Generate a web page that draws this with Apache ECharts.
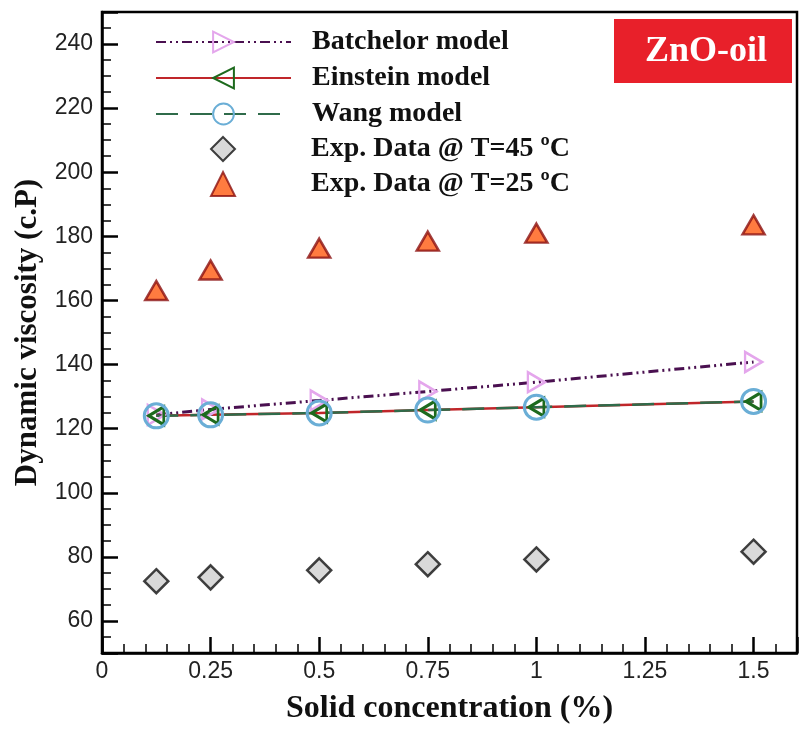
<!DOCTYPE html>
<html><head><meta charset="utf-8">
<script src="https://cdn.jsdelivr.net/npm/echarts@6/dist/echarts.min.js"></script>
<style>html,body{margin:0;padding:0;background:#fff}#c{width:801px;height:730px}</style>
</head><body><div id="c"></div>
<script>
const concentration = [0.125, 0.25, 0.5, 0.75, 1, 1.5];
const batchelor = [124.3, 126.0, 128.8, 131.6, 134.5, 140.8];
const einstein = [124.0, 124.3, 124.9, 125.8, 126.7, 128.5];
const wang = [124.0, 124.3, 124.9, 125.8, 126.7, 128.5];
const exp45 = [72.4, 73.6, 75.8, 77.7, 79.2, 81.6];
const exp25 = [163.1, 169.5, 176.3, 178.5, 181.0, 183.6];
const seriesNames = ['Batchelor model', 'Einstein model', 'Wang model', 'Exp. Data @ T=45 \u00baC', 'Exp. Data @ T=25 \u00baC'];

const pair = arr => concentration.map((x, i) => [x, arr[i]]);
const serif = '"Liberation Serif","Times New Roman",serif';
const sans = '"Liberation Sans",Arial,sans-serif';
const legendText = {fontFamily: serif, fontWeight: 'bold', fontSize: 28, color: '#111'};

const chart = echarts.init(document.getElementById('c'));
chart.setOption({
  animation: false,
  grid: {left: 102, right: 4, top: 12, bottom: 73, show: true, borderColor: '#000', borderWidth: 2.5, backgroundColor: 'transparent'},
  xAxis: {
    type: 'value', min: 0, max: 1.6, interval: 0.25,
    axisLine: {show: true, lineStyle: {color: '#000', width: 2.5}},
    axisTick: {show: true, inside: true, length: 16, lineStyle: {color: '#000', width: 2.5}},
    minorTick: {show: true, splitNumber: 5, length: 9, lineStyle: {color: '#000', width: 1.5}},
    splitLine: {show: false},
    axisLabel: {color: '#222', fontFamily: sans, fontSize: 23, margin: 7,
      formatter: v => (v > 1.55 ? '' : String(v))},
    name: 'Solid concentration (%)', nameLocation: 'middle', nameGap: 40,
    nameTextStyle: {fontFamily: serif, fontWeight: 'bold', fontSize: 32, color: '#111'}
  },
  yAxis: {
    type: 'value', min: 50, max: 250, splitNumber: 10,
    axisLine: {show: true, lineStyle: {color: '#000', width: 2.5}},
    axisTick: {show: true, inside: true, length: 16, lineStyle: {color: '#000', width: 2.5}},
    minorTick: {show: true, splitNumber: 4, length: 9, lineStyle: {color: '#000', width: 1.5}},
    splitLine: {show: false},
    axisLabel: {color: '#222', fontFamily: sans, fontSize: 23, margin: 9,
      formatter: v => ((v % 20 === 0 && v >= 60 && v <= 240) ? String(v) : '')},
    name: 'Dynamic viscosity (c.P)', nameLocation: 'middle', nameGap: 58,
    nameTextStyle: {fontFamily: serif, fontWeight: 'bold', fontSize: 31, color: '#111'}
  },
  legend: [{
    left: 150, top: 23, orient: 'vertical', itemWidth: 135, itemHeight: 26, itemGap: 8,
    data: seriesNames.slice(0, 3),
    textStyle: Object.assign({padding: [0, 0, 0, 16]}, legendText)
  }, {
    left: 205, top: 130, orient: 'vertical', itemWidth: 24, itemHeight: 24, itemGap: 7,
    data: seriesNames.slice(3),
    textStyle: Object.assign({padding: [0, 0, 0, 71]}, legendText)
  }],
  graphic: [{
    type: 'group', left: 614, top: 19,
    children: [
      {type: 'rect', shape: {x: 0, y: 0, width: 178, height: 64}, style: {fill: '#e8202a'}},
      {type: 'text', style: {x: 92, y: 33, text: 'ZnO-oil', fill: '#fff', font: 'bold 36px ' + serif, align: 'center', verticalAlign: 'middle'}}
    ]
  }],
  series: [
    {name: seriesNames[0], type: 'line', data: pair(batchelor),
      symbol: 'path://M0,0 L10,5 L0,10 Z', symbolSize: [17, 20],
      itemStyle: {color: 'rgba(255,255,255,0)', borderColor: '#e4a6ec', borderWidth: 2.5},
      lineStyle: {color: '#4a1050', width: 3, type: [10, 4, 2, 4, 2, 4]}},
    {name: seriesNames[1], type: 'line', data: pair(einstein),
      symbol: 'path://M10,0 L0,5 L10,10 Z', symbolSize: [15, 18],
      itemStyle: {color: 'rgba(255,255,255,0)', borderColor: '#1d6a1d', borderWidth: 3},
      lineStyle: {color: '#c0262a', width: 2.5}},
    {name: seriesNames[2], type: 'line', data: pair(wang),
      symbol: 'circle', symbolSize: 24,
      itemStyle: {color: 'rgba(255,255,255,0)', borderColor: '#6aaed6', borderWidth: 3},
      lineStyle: {color: '#2f6b4a', width: 2.5, type: [22, 12]}},
    {name: seriesNames[3], type: 'scatter', data: pair(exp45),
      symbol: 'diamond', symbolSize: 24,
      itemStyle: {color: '#cfcfcf', borderColor: '#111', borderWidth: 2.5}},
    {name: seriesNames[4], type: 'scatter', data: pair(exp25),
      symbol: 'triangle', symbolSize: [22, 19],
      itemStyle: {color: '#ff5a10', borderColor: '#8b1010', borderWidth: 2.5}}
  ]
});
</script></body></html>
